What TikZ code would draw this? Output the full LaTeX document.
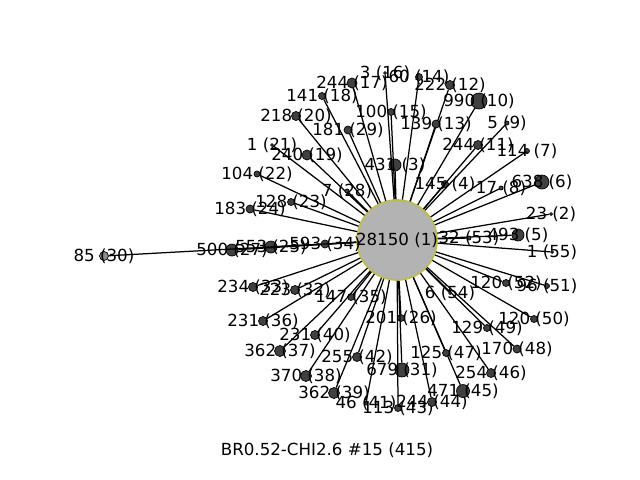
\documentclass[tikz,border=0pt]{standalone}
\usepackage{fontspec}
\setmainfont{DejaVu Sans}
\definecolor{hubfill}{RGB}{179,179,179}
\definecolor{hubedge}{RGB}{190,190,60}
\definecolor{satfill}{RGB}{64,64,64}
\definecolor{litefill}{RGB}{140,140,140}
\tikzset{
  hub/.style={circle, fill=hubfill, draw=hubedge, line width=1.2pt, minimum size=57.6pt, inner sep=0pt},
  sat/.style={circle, fill=satfill, draw=black, line width=0.5pt, inner sep=0pt},
  lab/.style={font=\fontsize{12pt}{14pt}\selectfont, inner sep=0pt, text=black},
  edge/.style={draw=black, line width=0.9pt},
}
\begin{document}
\begin{tikzpicture}[x=0.72pt, y=-0.72pt]
\useasboundingbox (0,0) rectangle (640,480);
\node[hub] (c) at (397,240) {};
\foreach \i/\x/\y/\r/\t in {
 2/551/214/1.5/23 (2), 3/395/165/6/431 (3), 4/445/184/3.5/145 (4), 5/518/235/6/493 (5),
 6/542/182/7/638 (6), 7/527/151/2.5/114 (7), 8/501/188/2/17 (8), 9/507/123/2/5 (9),
 10/479/101/8/990 (10), 11/478/145/4.5/244 (11), 12/450/85/4.5/222 (12), 13/436/124/4/139 (13),
 14/419/77/3.5/60 (14), 15/391/112/3.5/100 (15), 16/385/73/1.5/3 (16), 17/352/83/5/244 (17),
 18/322/96/3.5/141 (18), 19/307/155/5/240 (19), 20/296/116/4.5/218 (20), 21/272/145/1.5/1 (21),
 22/257/174/3/104 (22), 23/291/202/3.5/128 (23), 24/250/209/4/183 (24), 25/271/247/6/553 (25),
 26/401/318/3.5/201 (26), 27/232/250/6/500 (27), 28/347/191/2/7 (28), 29/348/130/4/181 (29),
 31/402/370/7/679 (31), 32/295/290/4.5/223 (32), 33/253/287/4.5/234 (33),
 34/325/244/4/593 (34), 35/351/297/3.5/147 (35), 36/263/321/4.5/231 (36), 37/280/351/5.5/362 (37),
 38/306/376/5.5/370 (38), 39/334/393/5.5/362 (39), 40/315/335/4.5/231 (40), 41/366/403/2/46 (41),
 42/357/357/4.5/255 (42), 43/398/408/3.5/113 (43), 44/432/402/4.5/244 (44), 45/463/391/6.5/471 (45),
 46/491/373/4.5/254 (46), 47/446/353/3.5/125 (47), 48/517/349/4/170 (48), 49/487/328/3.5/129 (49),
 50/534/319/3.5/120 (50), 51/547/286/2.5/96 (51), 52/506/283/3.5/120 (52), 53/469/238/2/32 (53),
 54/450/293/1.5/6 (54), 55/552/252/1.5/1 (55)} {
  \node[sat, minimum size=\r*1.44pt] (n\i) at (\x,\y) {};
  \draw[edge] (c) -- (n\i);
  \node[lab] (l\i) at (\x,\y) {\t};
}
\node[sat, fill=litefill, minimum size=6.5pt] (n30) at (104,256) {};
\draw[edge] (c) -- (n30);
\node[lab] (l30) at (104,256) {85 (30)};
\node[lab] (lc) at (397,240) {28150 (1)};
\node[lab] (title) at (327,450) {BR0.52-CHI2.6 \#15 (415)};
\end{tikzpicture}
\end{document}
